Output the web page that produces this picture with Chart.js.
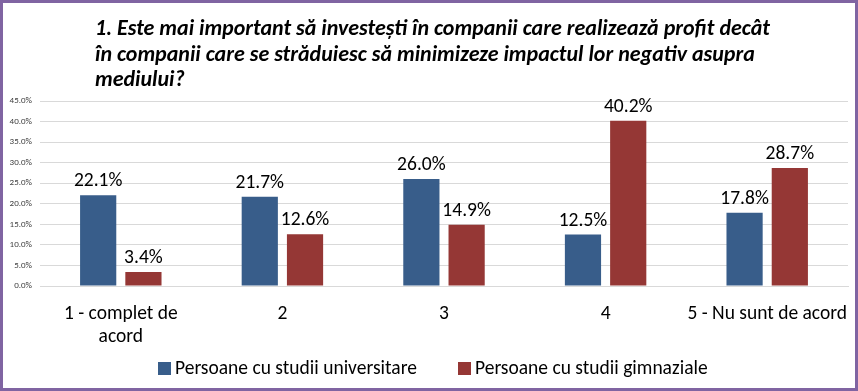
<!DOCTYPE html>
<html>
<head>
<meta charset="utf-8">
<script src="https://cdn.jsdelivr.net/npm/chart.js@4/dist/chart.umd.min.js"></script>
<style>
  body { margin: 0; background: #fff; }
  #wrap { position: relative; width: 858px; height: 391px; }
</style>
</head>
<body>
<div id="wrap"><canvas id="graphique"></canvas></div>
<script>
// Données du graphique
const categories = [["1 - complet de", "acord"], "2", "3", "4", "5 - Nu sunt de acord"];
const universitare = [22.1, 21.7, 26.0, 12.5, 17.8];
const gimnaziale = [3.4, 12.6, 14.9, 40.2, 28.7];
const seriesNames = ["Persoane cu studii universitare", "Persoane cu studii gimnaziale"];
const titleLines = [
    "1. Este mai important să investești în companii care realizează profit decât",
    "în companii care se străduiesc să minimizeze impactul lor negativ asupra",
    "mediului?"
];

const FONT = "Carlito, Calibri, 'Liberation Sans Narrow', 'DejaVu Sans Condensed', sans-serif";
const BODY_FONT = "Carlito, Calibri, 'Open Sans', 'Liberation Sans', sans-serif";

// Titre + cadre + étiquettes + légende dessinés à la main
const decor = {
    id: "decor",
    afterDraw(chart) {
        const ctx = chart.ctx;
        ctx.save();
        // titre aligné à gauche
        ctx.fillStyle = "#000";
        ctx.font = "italic bold 22px " + FONT;
        ctx.textAlign = "left";
        ctx.textBaseline = "alphabetic";
        titleLines.forEach((l, i) => ctx.fillText(l, 95, 35 + i * 25.5));

        // valeurs au-dessus des barres
        ctx.font = "19.5px " + BODY_FONT;
        ctx.textAlign = "center";
        ctx.textBaseline = "bottom";
        chart.data.datasets.forEach((ds, di) => {
            chart.getDatasetMeta(di).data.forEach((bar, i) => {
                ctx.fillText(ds.data[i].toFixed(1) + "%", bar.x, bar.y - 4);
            });
        });

        // légende
        const lx = [158, 458];
        ctx.font = "19.5px " + BODY_FONT;
        ctx.textAlign = "left";
        ctx.textBaseline = "middle";
        chart.data.datasets.forEach((ds, di) => {
            ctx.fillStyle = ds.backgroundColor;
            ctx.fillRect(lx[di], 362, 13, 13);
            ctx.fillStyle = "#000";
            ctx.fillText(ds.label, lx[di] + 17, 369);
        });

        // cadre violet
        ctx.strokeStyle = "#8064A2";
        ctx.lineWidth = 3;
        ctx.strokeRect(1.5, 1.5, 855, 388);
        ctx.restore();
    }
};

new Chart(document.querySelector("#graphique"), {
    type: "bar",
    data: {
        labels: categories,
        datasets: [
            { label: seriesNames[0], data: universitare, backgroundColor: "#385D8A" },
            { label: seriesNames[1], data: gimnaziale, backgroundColor: "#953735" }
        ]
    },
    options: {
        responsive: true,
        maintainAspectRatio: false,
        animation: false,
        categoryPercentage: 0.56,
        barPercentage: 0.8,
        layout: { padding: { top: 101, right: 10, left: 0, bottom: 0 } },
        plugins: {
            legend: { display: false },
            title: { display: false },
            tooltip: { enabled: false }
        },
        scales: {
            x: {
                grid: { display: false },
                border: { color: "#D9D9D9" },
                ticks: {
                    color: "#000",
                    font: { family: BODY_FONT, size: 19.5 },
                    maxRotation: 0,
                    autoSkip: false,
                    padding: 8
                },
                afterFit: s => { s.height = 105; }
            },
            y: {
                min: 0,
                max: 45,
                border: { display: false },
                grid: { color: "#D9D9D9", drawTicks: false },
                ticks: {
                    stepSize: 5,
                    padding: 8,
                    color: "#404040",
                    font: { family: BODY_FONT, size: 9 },
                    callback: v => v.toFixed(1) + "%"
                },
                afterFit: s => { s.width = 40; }
            }
        }
    },
    plugins: [decor]
});
</script>
</body>
</html>
